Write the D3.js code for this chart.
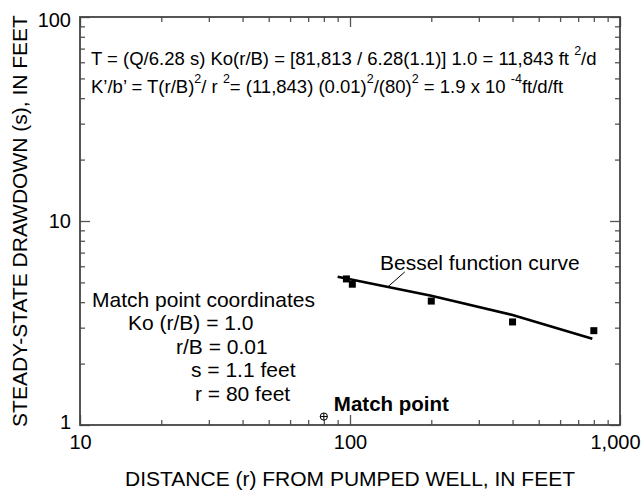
<!DOCTYPE html>
<html>
<head>
<meta charset="utf-8">
<script src="https://cdn.jsdelivr.net/npm/d3@7"></script>
<style>
  html, body { margin: 0; padding: 0; background: #fff; }
  svg text { font-family: "Liberation Sans", Arial, sans-serif; fill: #000; }
</style>
</head>
<body>
<svg id="chart" width="642" height="490"></svg>
<script>
// Observed steady-state drawdown at observation wells
const obsDistance = [97, 102, 200, 400, 800];
const obsDrawdown = [5.2, 4.9, 4.05, 3.2, 2.9];

// Bessel function type curve, traced through the observations
const curveDistance = [90, 200, 400, 790];
const curveDrawdown = [5.33, 4.3, 3.46, 2.65];

// Match point
const matchDistance = [80];
const matchDrawdown = [1.1];

// Axis ticks
const xMajor = [10, 100, 1000];
const xMajorLabels = ["10", "100", "1,000"];
const yMajor = [1, 10, 100];
const yMajorLabels = ["1", "10", "100"];
const minorMultipliers = [2, 3, 4, 5, 6, 7, 8, 9];

const svg = d3.select("#chart");
const plotLeft = 80, plotRight = 620, plotTop = 17, plotBottom = 425;

const x = d3.scaleLog().domain([10, 1000]).range([plotLeft, plotRight]);
const y = d3.scaleLog().domain([1, 100]).range([plotBottom, plotTop]);

const xMinor = [10, 100].flatMap(d => minorMultipliers.map(m => d * m));
const yMinor = [1, 10].flatMap(d => minorMultipliers.map(m => d * m));

const tickColor = "#555";

function styleAxis(g) {
  g.select(".domain").remove();
  g.selectAll(".tick line").attr("stroke", tickColor).attr("stroke-width", 1.3);
  g.selectAll(".tick text").attr("font-size", 20).attr("fill", "#000")
    .attr("font-family", '"Liberation Sans", Arial, sans-serif');
}

// Inward ticks on all four sides
const axes = [
  { gen: d3.axisBottom, scale: x, tr: `translate(0,${plotBottom})`, major: xMajor, minor: xMinor, labels: xMajorLabels, show: true },
  { gen: d3.axisTop, scale: x, tr: `translate(0,${plotTop})`, major: xMajor, minor: xMinor, labels: null, show: false },
  { gen: d3.axisLeft, scale: y, tr: `translate(${plotLeft},0)`, major: yMajor, minor: yMinor, labels: yMajorLabels, show: true },
  { gen: d3.axisRight, scale: y, tr: `translate(${plotRight},0)`, major: yMajor, minor: yMinor, labels: null, show: false }
];

axes.forEach(a => {
  svg.append("g").attr("transform", a.tr)
    .call(a.gen(a.scale).tickValues(a.minor).tickSize(-5).tickFormat(""))
    .call(styleAxis);
  const g = svg.append("g").attr("transform", a.tr)
    .call(a.gen(a.scale).tickValues(a.major).tickSize(-10).tickPadding(8)
      .tickFormat((d, i) => a.show ? a.labels[i] : ""))
    .call(styleAxis);
  if (!a.show) g.selectAll(".tick text").remove();
  if (a.show && a.gen === d3.axisLeft) {
    g.selectAll(".tick text").attr("x", -9);
    g.selectAll(".tick").filter(d => d === 100).select("text").attr("dy", "0.45em");
    // keep the lowest label clear of the x-axis "10"
    g.selectAll(".tick").filter(d => d === 1).select("text").attr("dy", "0.15em");
  }
  if (a.show && a.gen === d3.axisBottom) {
    g.selectAll(".tick text").attr("dy", "0.8em");
    g.selectAll(".tick").filter(d => d === 1000).select("text").attr("dx", -5);
  }
});

// Plot frame
svg.append("rect")
  .attr("x", plotLeft).attr("y", plotTop)
  .attr("width", plotRight - plotLeft).attr("height", plotBottom - plotTop)
  .attr("fill", "none").attr("stroke", "#444").attr("stroke-width", 1.8);

// Axis titles
svg.append("text")
  .attr("x", 350).attr("y", 486)
  .attr("text-anchor", "middle").attr("font-size", 21)
  .text("DISTANCE (r) FROM PUMPED WELL, IN FEET");

svg.append("text")
  .attr("transform", `translate(27,221) rotate(-90)`)
  .attr("text-anchor", "middle").attr("font-size", 21)
  .text("STEADY-STATE DRAWDOWN (s), IN FEET");

// Type curve
const line = d3.line().x(d => x(d[0])).y(d => y(d[1]));
svg.append("path")
  .datum(curveDistance.map((d, i) => [d, curveDrawdown[i]]))
  .attr("d", line)
  .attr("fill", "none").attr("stroke", "#000").attr("stroke-width", 2.6);

// Observation points
const sq = 7;
svg.selectAll("rect.obs")
  .data(obsDistance.map((d, i) => [d, obsDrawdown[i]]))
  .join("rect").attr("class", "obs")
  .attr("x", d => x(d[0]) - sq / 2).attr("y", d => y(d[1]) - sq / 2)
  .attr("width", sq).attr("height", sq).attr("fill", "#000");

// Point on the drawn polyline (log-log interpolation) for the label leader
function curveY(r) {
  const lr = Math.log10(r);
  for (let i = 0; i < curveDistance.length - 1; i++) {
    const a = Math.log10(curveDistance[i]), b = Math.log10(curveDistance[i + 1]);
    if (lr >= a && lr <= b) {
      const t = (lr - a) / (b - a);
      const ls = Math.log10(curveDrawdown[i]) + t * (Math.log10(curveDrawdown[i + 1]) - Math.log10(curveDrawdown[i]));
      return y(Math.pow(10, ls));
    }
  }
  return y(curveDrawdown[0]);
}
const leaderAt = 138;
const lx = x(leaderAt), lyc = curveY(leaderAt);
svg.append("line")
  .attr("x1", lx).attr("y1", lyc)
  .attr("x2", lx + 17).attr("y2", lyc - 15)
  .attr("stroke", "#000").attr("stroke-width", 1);
svg.append("text")
  .attr("x", 380).attr("y", 270).attr("font-size", 21)
  .text("Bessel function curve");

// Match point marker
const mx = x(matchDistance[0]), my = y(matchDrawdown[0]);
svg.append("circle").attr("cx", mx).attr("cy", my).attr("r", 3.6)
  .attr("fill", "none").attr("stroke", "#000").attr("stroke-width", 1);
svg.append("line").attr("x1", mx - 3.6).attr("x2", mx + 3.6).attr("y1", my).attr("y2", my)
  .attr("stroke", "#000").attr("stroke-width", 1);
svg.append("line").attr("x1", mx).attr("x2", mx).attr("y1", my - 3.6).attr("y2", my + 3.6)
  .attr("stroke", "#000").attr("stroke-width", 1);
svg.append("text")
  .attr("x", mx + 10).attr("y", my - 6).attr("font-size", 20.5).attr("font-weight", "bold")
  .text("Match point");

// Match point coordinates block
const coordLines = [
  { t: "Match point coordinates", x: 92, y: 307 },
  { t: "Ko (r/B) = 1.0", x: 128, y: 330 },
  { t: "r/B = 0.01", x: 176, y: 354 },
  { t: "s = 1.1 feet", x: 191, y: 377 },
  { t: "r = 80 feet", x: 195, y: 401 }
];
svg.selectAll("text.coord").data(coordLines).join("text").attr("class", "coord")
  .attr("x", d => d.x).attr("y", d => d.y).attr("font-size", 21)
  .text(d => d.t);

// Equations with superscripts
function eq(parts, xp, yp) {
  const t = svg.append("text").attr("x", xp).attr("y", yp).attr("font-size", 18.5);
  let raised = false;
  parts.forEach(p => {
    if (typeof p === "string") {
      t.append("tspan").attr("dy", raised ? 10 : 0).text(p);
      raised = false;
    } else {
      t.append("tspan").attr("dy", -10).attr("font-size", 12.5).text(p.sup);
      raised = true;
    }
  });
}
eq(["T = (Q/6.28 s) Ko(r/B) = [81,813 / 6.28(1.1)] 1.0 = 11,843 ft ", { sup: "2" }, "/d"], 91, 65);
eq(["K\u2019/b\u2019 = T(r/B)", { sup: "2" }, "/ r ", { sup: "2" }, "= (11,843) (0.01)", { sup: "2" },
    "/(80)", { sup: "2" }, " = 1.9 x 10 ", { sup: "-4" }, "ft/d/ft"], 91, 93);
</script>
</body>
</html>
